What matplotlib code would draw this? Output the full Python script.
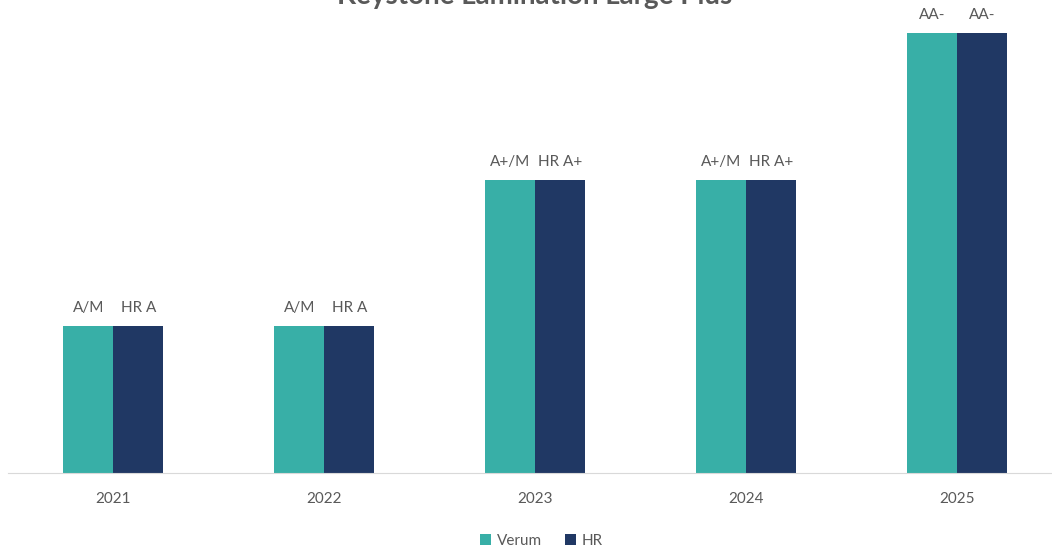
import numpy as np
import matplotlib.pyplot as plt

plt.rcParams['font.family'] = ['Lato', 'DejaVu Sans']

years = ['2021', '2022', '2023', '2024', '2025']
verum = [1, 1, 2, 2, 3]
hr = [1, 1, 2, 2, 3]
verum_labels = ['A/M', 'A/M', 'A+/M', 'A+/M', 'AA-']
hr_labels = ['HR A', 'HR A', 'HR A+', 'HR A+', 'AA-']

teal = '#38AFA7'
navy = '#203864'
grey = '#595959'

fig = plt.figure(figsize=(10.52, 5.52), dpi=100)
ax = fig.add_axes([8 / 1052, 79 / 552, 1 - 8 / 1052, 1 - 79 / 552])

x = np.arange(len(years))
w = 0.237
b1 = ax.bar(x - w / 2, verum, w, color=teal, label='Verum')
b2 = ax.bar(x + w / 2, hr, w, color=navy, label='HR')

for bars, labels in ((b1, verum_labels), (b2, hr_labels)):
    for bar, lab in zip(bars, labels):
        ax.annotate(lab, (bar.get_x() + bar.get_width() / 2, bar.get_height()),
                    xytext=(0, 8), textcoords='offset points',
                    ha='center', va='bottom', fontsize=11, color=grey)

ax.set_xlim(-0.5, 4.45)
ax.set_ylim(0, 3.225)
ax.set_xticks(x)
ax.set_xticklabels(years, fontsize=11, color=grey)
ax.tick_params(axis='x', length=0, pad=14)
ax.set_yticks([])
for s in ['top', 'right', 'left']:
    ax.spines[s].set_visible(False)
ax.spines['bottom'].set_color('#D9D9D9')

# title is clipped by the top edge, as in the original export
fig.text(0.508, 1 - 4 / 552, 'Keystone Lamination Large Plus', ha='center', va='baseline',
         fontsize=20, fontweight='bold', color=grey)

fig.legend(handles=[b1, b2], loc='center', bbox_to_anchor=(0.515, 0.02),
           ncol=2, frameon=False, fontsize=11, labelcolor=grey,
           handlelength=0.7, handleheight=0.7, handletextpad=0.4, columnspacing=1.5)

fig.savefig('out.png', dpi=100)
